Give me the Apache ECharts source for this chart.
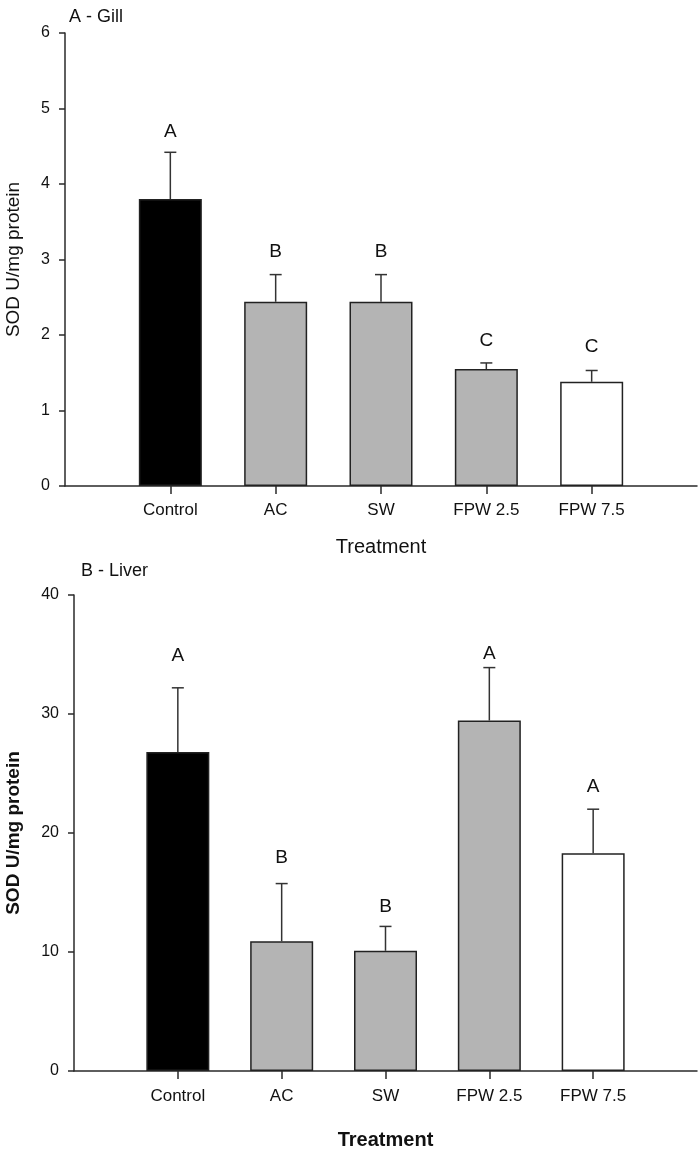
<!DOCTYPE html>
<html><head><meta charset="utf-8">
<script src="https://cdn.jsdelivr.net/npm/echarts@6/dist/echarts.min.js"></script>
<style>html,body{margin:0;padding:0;background:#fff}#c{width:700px;height:1150px}</style>
</head><body><div id="c"></div>
<script>
// ---- data ----
const categories = ['', 'Control', 'AC', 'SW', 'FPW 2.5', 'FPW 7.5', ''];
const gillMean = [3.80, 2.44, 2.44, 1.55, 1.38];
const gillSE = [0.62, 0.36, 0.36, 0.08, 0.15];
const gillLetters = ['A', 'B', 'B', 'C', 'C'];
const gillLetterY = [4.69, 3.10, 3.10, 1.93, 1.85];
const liverMean = [26.8, 10.9, 10.1, 29.45, 18.3];
const liverSE = [5.4, 4.85, 2.05, 4.45, 3.7];
const liverLetters = ['A', 'B', 'B', 'A', 'A'];
const liverLetterY = [34.9, 17.9, 13.8, 35.1, 23.9];
const barColors = ['#000000', '#b4b4b4', '#b4b4b4', '#b4b4b4', '#ffffff'];

const FONT = "'Liberation Sans', Arial, sans-serif";
const AX = '#2a2a2a';

function xAxisDef(gridIndex, bold, nameGap, labelMargin) {
  return {
    type: 'category', gridIndex, data: categories, boundaryGap: false,
    axisLine: { lineStyle: { color: AX, width: 1.5 } },
    axisTick: { length: 8, lineStyle: { color: AX, width: 1.5 }, interval: (i) => i > 0 && i < categories.length - 1 },
    axisLabel: { color: '#111', fontFamily: FONT, fontSize: 17, margin: labelMargin, interval: 0 },
    name: 'Treatment', nameLocation: 'middle', nameGap,
    nameTextStyle: { color: '#111', fontFamily: FONT, fontSize: 20, fontWeight: bold ? 'bold' : 'normal' },
    splitLine: { show: false }
  };
}
function yAxisDef(gridIndex, max, interval, bold, nameGap) {
  return {
    type: 'value', gridIndex, min: 0, max, interval,
    axisLine: { show: true, lineStyle: { color: AX, width: 1.5 } },
    axisTick: { show: true, length: 6, lineStyle: { color: AX, width: 1.5 } },
    axisLabel: { color: '#111', fontFamily: FONT, fontSize: 16, margin: 15 },
    splitLine: { show: false },
    name: 'SOD U/mg protein', nameLocation: 'middle', nameGap, nameRotate: 90,
    nameTextStyle: { color: '#111', fontFamily: FONT, fontSize: 19, fontWeight: bold ? 'bold' : 'normal' }
  };
}
function barSeries(idx, means) {
  return {
    type: 'bar', xAxisIndex: idx, yAxisIndex: idx, barWidth: 63,
    data: means.map((v, i) => ({ value: [i + 1, v], itemStyle: { color: barColors[i] } })),
    itemStyle: { borderColor: '#222', borderWidth: 1.5 },
    silent: true
  };
}
function errSeries(idx, means, se) {
  return {
    type: 'custom', xAxisIndex: idx, yAxisIndex: idx, z: 5, silent: true,
    data: means.map((v, i) => [i + 1, v, v + se[i]]),
    renderItem: (params, api) => {
      const p0 = api.coord([api.value(0), api.value(1)]);
      const p1 = api.coord([api.value(0), api.value(2)]);
      const st = { stroke: '#333', lineWidth: 1.5 };
      return { type: 'group', children: [
        { type: 'line', shape: { x1: p0[0], y1: p0[1], x2: p1[0], y2: p1[1] }, style: st },
        { type: 'line', shape: { x1: p1[0] - 6, y1: p1[1], x2: p1[0] + 6, y2: p1[1] }, style: st }
      ] };
    }
  };
}
function letterSeries(idx, letters, ys) {
  return {
    type: 'custom', xAxisIndex: idx, yAxisIndex: idx, z: 6, silent: true,
    data: ys.map((y, i) => [i + 1, y]),
    renderItem: (params, api) => {
      const p = api.coord([api.value(0), api.value(1)]);
      return { type: 'text', x: p[0], y: p[1], style: { text: letters[params.dataIndex], fill: '#111', font: '19px ' + FONT, align: 'center', verticalAlign: 'middle' } };
    }
  };
}

const chart = echarts.init(document.getElementById('c'), null, { renderer: 'canvas' });
chart.setOption({
  backgroundColor: '#fff',
  animation: false,
  title: [
    { text: 'A - Gill', left: 64, top: 3, textStyle: { fontFamily: FONT, fontSize: 18, fontWeight: 'normal', color: '#111' } },
    { text: 'B - Liver', left: 76, top: 557, textStyle: { fontFamily: FONT, fontSize: 18, fontWeight: 'normal', color: '#111' } }
  ],
  grid: [
    { left: 65, right: 3, top: 33, height: 453, containLabel: false, outerBoundsMode: 'none' },
    { left: 74, right: 3, top: 595, height: 476, containLabel: false, outerBoundsMode: 'none' }
  ],
  xAxis: [xAxisDef(0, false, 51, 16), xAxisDef(1, true, 59, 17)],
  yAxis: [yAxisDef(0, 6, 1, false, 42), yAxisDef(1, 40, 10, true, 51)],
  series: [
    barSeries(0, gillMean), errSeries(0, gillMean, gillSE), letterSeries(0, gillLetters, gillLetterY),
    barSeries(1, liverMean), errSeries(1, liverMean, liverSE), letterSeries(1, liverLetters, liverLetterY)
  ]
});
</script></body></html>
